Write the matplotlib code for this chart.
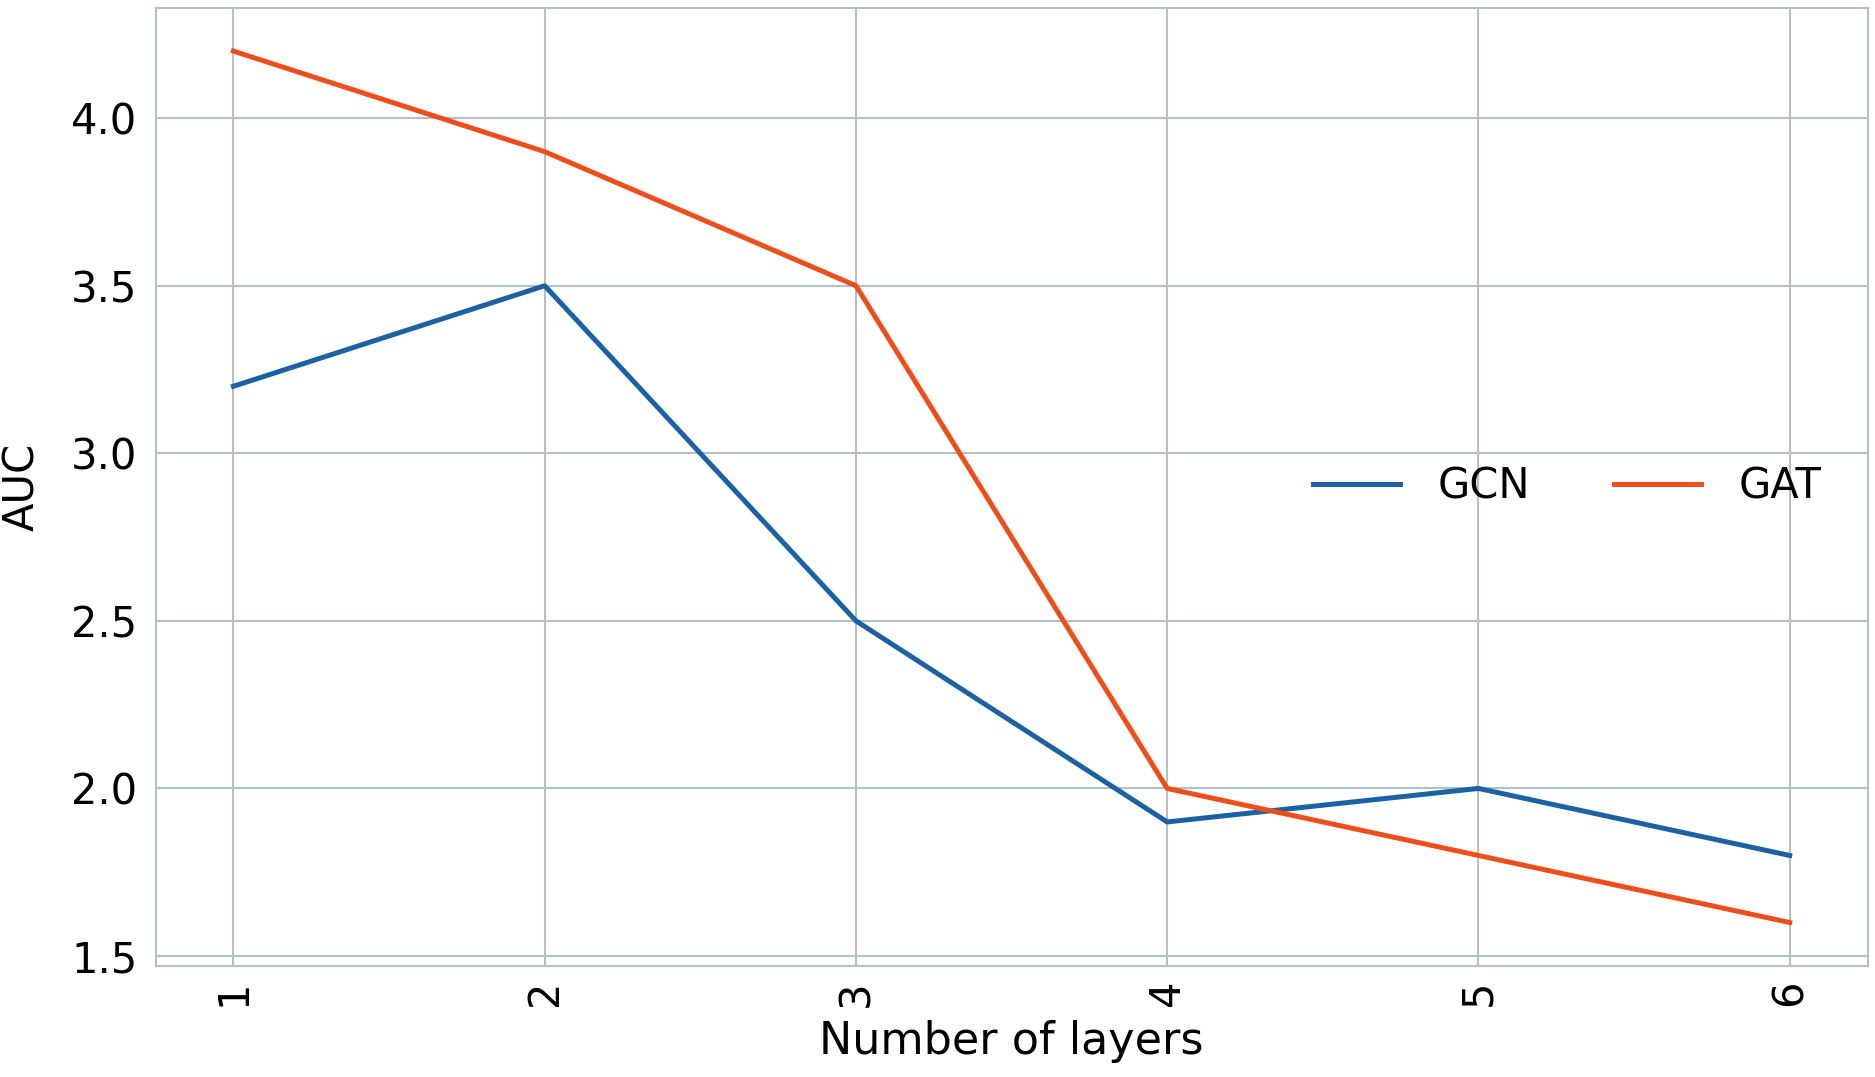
"""AUC against number of layers for GCN and GAT."""
import matplotlib

matplotlib.use("Agg")
from matplotlib import pyplot as plt

layers = [1, 2, 3, 4, 5, 6]
auc_gcn = [3.2, 3.5, 2.5, 1.9, 2.0, 1.8]
auc_gat = [4.2, 3.9, 3.5, 2.0, 1.8, 1.6]
tick_labels = ["1", "2", "3", "4", "5", "6"]

GRID = "#b4c0c8"

plt.rcParams["font.family"] = "DejaVu Sans"
fig, ax = plt.subplots(figsize=(18.75, 10.77), dpi=100)

ax.plot(layers, auc_gcn, color="#1c62a3", lw=3.6, label="GCN")
ax.plot(layers, auc_gat, color="#ec4e1c", lw=3.6, label="GAT")

ax.set_xticks(layers)
ax.set_xticklabels(tick_labels, rotation=90)
ax.set_yticks([1.5, 2.0, 2.5, 3.0, 3.5, 4.0])
ax.tick_params(labelsize=30, length=0)
ax.tick_params(axis="y", pad=13)
ax.tick_params(axis="x", pad=10)
ax.grid(color=GRID, lw=1.5)
for s in ax.spines.values():
    s.set_color(GRID)
    s.set_linewidth(1.5)

ax.set_xlabel("Number of layers", fontsize=32, labelpad=10)
ax.set_ylabel("AUC", fontsize=30, labelpad=20)

ax.legend(loc="center right", bbox_to_anchor=(0.995, 0.5), ncol=2, frameon=False,
          fontsize=30, handlelength=2.1, columnspacing=2.0, handletextpad=0.9)

fig.subplots_adjust(left=0.083, right=0.996, top=0.993, bottom=0.103)
fig.savefig("out.png", dpi=100)
